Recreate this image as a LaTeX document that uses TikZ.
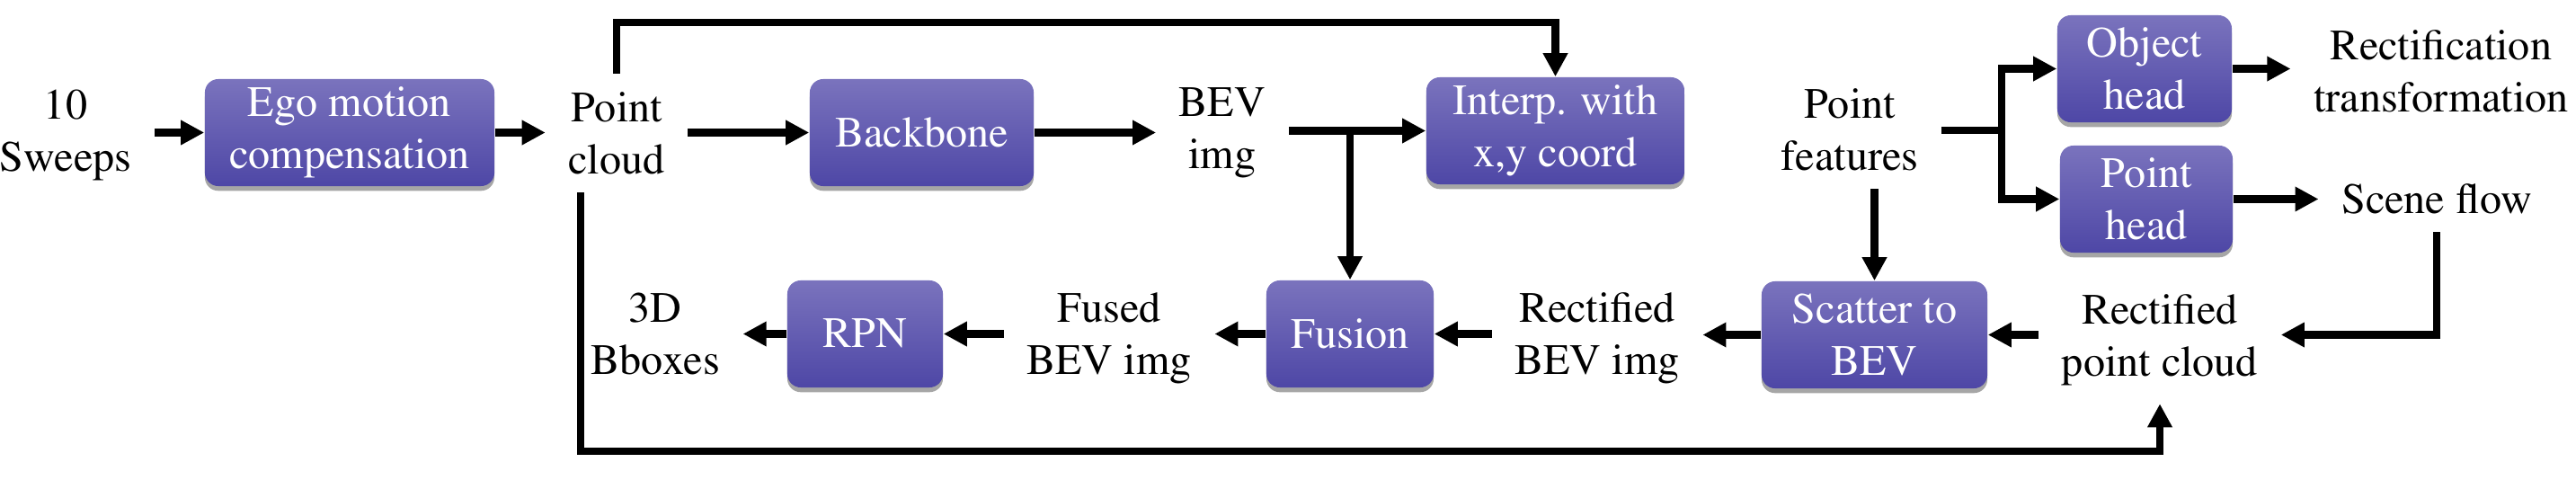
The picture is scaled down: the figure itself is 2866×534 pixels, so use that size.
\documentclass[tikz,border=0pt]{standalone}
\usepackage[T1]{fontenc}
\renewcommand{\rmdefault}{ptm}
\usepackage{tikz}
\usetikzlibrary{arrows.meta,positioning,calc,shadows}

\definecolor{blktop}{HTML}{7A73BD}
\definecolor{blkbot}{HTML}{4E47A6}

\begin{document}
\begin{tikzpicture}[
  x=0.01cm, y=-0.01cm,
  >={Triangle[length=7.4pt,width=7.4pt]},
  font=\rmfamily\fontsize{13.7}{16.5}\selectfont,
  blk/.style={rounded corners=0.15cm, top color=blktop, bottom color=blkbot,
    draw=none, text=white, align=center, minimum height=1.19cm, inner sep=0pt,
    drop shadow={shadow xshift=0pt, shadow yshift=-1.5pt, opacity=0.35, fill=black}},
  txt/.style={align=center, inner xsep=0.25cm, inner ysep=0.2cm},
  arr/.style={->, line width=2.4pt}
]
\useasboundingbox (0,0) rectangle (2866,534);

% ==================== Upper row ====================
\node (sweeps) [txt] at (73,150) {10\\Sweeps};
\node (ego) [blk, minimum width=3.22cm] at (389,147.5) {Ego motion\\compensation};
\node (pcloud) [txt] at (686,148) {Point\\cloud};
\node (backbone) [blk, minimum width=2.49cm] at (1025.5,147.5) {Backbone};
\node (bevimg) [txt] at (1360,148) {BEV\\img};
\node (interp) [blk, minimum width=2.87cm] at (1730.5,145.5) {Interp. with\\x,y coord};
\node (ptfeat) [txt] at (2058,144) {Point\\features};

% Heads
\node (objhead) [blk, minimum width=1.94cm] at (2386,76.5) {Object\\head};
\node (pthead) [blk, minimum width=1.92cm] at (2388,221.5) {Point\\head};
\node (rectf) [txt] at (2716,79) {Rectification\\transformation};
\node (sflow) [txt] at (2711,221) {Scene flow};

% ==================== Lower row ====================
\node (rpc) [txt] at (2403,378) {Rectified\\point cloud};
\node (scatter) [blk, minimum width=2.51cm] at (2085.5,372.5) {Scatter to\\BEV};
\node (rbev) [txt] at (1777,376) {Rectified\\BEV img};
\node (fusion) [blk, minimum width=1.86cm] at (1502,371.5) {Fusion};
\node (fbev) [txt] at (1234,376) {Fused\\BEV img};
\node (rpn) [blk, minimum width=1.73cm] at (962.5,371.5) {RPN};
\node (bbox) [txt] at (729,371) {3D\\Bboxes};

% Rails and branch points
\coordinate (toprail) at (0,25);
\coordinate (botrail) at (0,502);
\coordinate (split) at (2227,145);

% ==================== Connectors ====================
\draw[arr] (sweeps.east |- ego.west) -- (ego.west);
\draw[arr] (ego.east) -- (ego.east -| pcloud.west);
\draw[arr] (pcloud.east |- backbone.west) -- (backbone.west);
\draw[arr] (backbone.east) -- (backbone.east -| bevimg.west);
\draw[arr] (bevimg.east |- interp.west) -- (interp.west);
\draw[arr] (fusion.north |- interp.west) -- (fusion.north);
\draw[arr] (pcloud.north) -- (pcloud.north |- toprail) -| (interp.north);
\draw[arr] ($(pcloud.south)+(-40,0)$) -- ($(pcloud.south |- botrail)+(-40,0)$) -| (rpc.south);

\draw[line width=2.4pt] (ptfeat.east |- split) -- (split);
\draw[arr] (split) |- (objhead.west);
\draw[arr] (split) |- (pthead.west);
\draw[arr] (objhead.east) -- (objhead.east -| rectf.west);
\draw[arr] (pthead.east) -- (pthead.east -| sflow.west);
\draw[arr] (sflow.south) |- (rpc.east |- scatter.east);

\draw[arr] (rpc.west |- scatter.east) -- (scatter.east);
\draw[arr] (ptfeat.south -| scatter.north) -- (scatter.north);
\draw[arr] (scatter.west) -- (scatter.west -| rbev.east);
\draw[arr] (rbev.west |- fusion.east) -- (fusion.east);
\draw[arr] (fusion.west) -- (fusion.west -| fbev.east);
\draw[arr] (fbev.west |- rpn.east) -- (rpn.east);
\draw[arr] (rpn.west) -- (rpn.west -| bbox.east);

\end{tikzpicture}
\end{document}
